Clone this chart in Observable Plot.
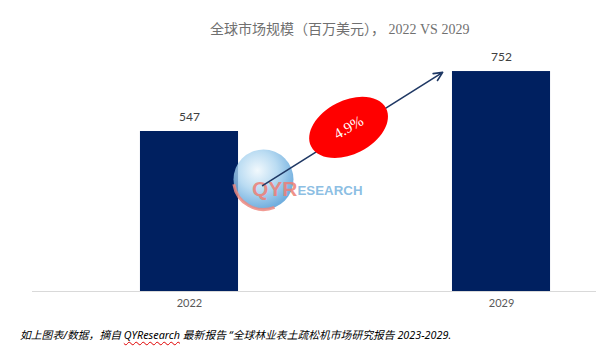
<!DOCTYPE html>
<html>
<head>
<meta charset="utf-8">
<script src="https://cdn.jsdelivr.net/npm/d3@7"></script>
<script src="https://cdn.jsdelivr.net/npm/@observablehq/plot@0.6"></script>
<style>
  html, body { margin: 0; padding: 0; background: #fff; }
  body { width: 596px; height: 359px; overflow: hidden; position: relative; }
  #title {
    box-sizing: border-box; height: 44px; padding-top: 20px; padding-left: 210px;
    font-family: "Liberation Serif", "Noto Sans CJK SC", serif; font-size: 14px; line-height: 20px;
    color: #707070; white-space: pre;
  }
  #chart svg { display: block; overflow: visible; }
  #caption {
    box-sizing: border-box; height: 39px; padding-top: 7px; padding-left: 20px;
    font-family: "Noto Sans", "Noto Sans CJK SC", sans-serif; font-style: italic;
    font-size: 10.8px; line-height: 16px; color: #000; white-space: nowrap;
  }
  .spell { text-decoration: underline wavy #e00000; text-decoration-thickness: 1px; text-underline-offset: 2px; }
</style>
</head>
<body>
<div id="title">全球市场规模（百万美元）， 2022 VS 2029</div>
<div id="chart"></div>
<div id="caption">如上图表/数据，摘自 <span class="spell">QYResearch</span> 最新报告 “全球林业表土疏松机市场研究报告 2023-2029.</div>
<script>
// ---- data ----
const years = [2022, 2029];
const values = [547, 752];
const cagrLabel = "4.9%";
// annotation anchors in data units (year, value)
const arrowFrom = [2023.64, 362];
const arrowTo = [2027.68, 749];
const cagrAt = [2025.57, 561];
const logoAt = [2023.66, 383];

const data = years.map((year, i) => ({year, value: values[i]}));

// custom ellipse symbol (r = semi-major axis)
const ellipseSymbol = {
  draw(ctx, size) {
    const a = Math.sqrt(size / Math.PI), b = a * 0.64, k = 0.5523;
    ctx.moveTo(a, 0);
    ctx.bezierCurveTo(a, k * b, k * a, b, 0, b);
    ctx.bezierCurveTo(-k * a, b, -a, k * b, -a, 0);
    ctx.bezierCurveTo(-a, -k * b, -k * a, -b, 0, -b);
    ctx.bezierCurveTo(k * a, -b, a, -k * b, a, 0);
    ctx.closePath();
  }
};
// swoosh arc symbol for the logo
const arcSymbol = {
  draw(ctx, size) {
    const r = Math.sqrt(size / Math.PI);
    ctx.moveTo(r * Math.cos(Math.PI * 0.95), r * Math.sin(Math.PI * 0.95));
    ctx.arc(0, 0, r, Math.PI * 0.95, Math.PI * 0.38, true);
  }
};

const plot = Plot.plot({
  width: 596,
  height: 276,
  marginLeft: 32,
  marginRight: 0,
  marginTop: 13,
  marginBottom: 29,
  x: {type: "linear", domain: [2018.478, 2031.131], label: null},
  y: {domain: [0, 800], axis: null},
  style: {background: "transparent"},
  marks: [
    Plot.rectY(data, {x1: d => d.year - 1.1, x2: d => d.year + 1.1, y: "value", fill: "#002060"}),
    Plot.ruleY([0], {stroke: "#d9d9d9", strokeWidth: 1}),
    Plot.axisX({ticks: years, tickFormat: d => `${d}`, tickSize: 0, tickPadding: 8, label: null,
      fontSize: 11, fill: "#595959", fontFamily: "Lato, 'Open Sans', sans-serif"}),
    Plot.text(data, {x: "year", y: "value", text: d => `${d.value}`, dy: -14,
      fontSize: 12, fill: "#404040", fontFamily: "Lato, 'Open Sans', sans-serif"}),
    // watermark logo
    Plot.dot([logoAt], {x: d => d[0], y: d => d[1], r: 30, fill: "url(#globeGrad)", fillOpacity: 0.8}),
    Plot.dot([logoAt], {x: d => d[0], y: d => d[1], r: 30, symbol: arcSymbol, fill: "none",
      stroke: "#ee8a80", strokeWidth: 3, strokeOpacity: 0.85}),
    Plot.text([logoAt], {x: d => d[0], y: d => d[1], text: () => "QYR", dx: 34, dy: 10, textAnchor: "end",
      fontSize: 21, fontWeight: "bold", fill: "#ee7e74", fillOpacity: 0.85,
      fontFamily: "'Liberation Sans', Arial, sans-serif"}),
    Plot.text([logoAt], {x: d => d[0], y: d => d[1], text: () => "ESEARCH", dx: 34, dy: 11, textAnchor: "start",
      fontSize: 13.3, fontWeight: "bold", fill: "#7db6e0", fillOpacity: 0.9,
      fontFamily: "'Liberation Sans', Arial, sans-serif"}),
    // CAGR arrow
    Plot.arrow([{from: arrowFrom, to: arrowTo}], {
      x1: d => d.from[0], y1: d => d.from[1], x2: d => d.to[0], y2: d => d.to[1],
      stroke: "#1f3864", strokeWidth: 1.6, headLength: 9, headAngle: 50
    }),
    Plot.dot([cagrAt], {x: d => d[0], y: d => d[1], r: 42, symbol: ellipseSymbol, rotate: -27,
      fill: "#ff0000", stroke: "none"}),
    Plot.text([cagrAt], {x: d => d[0], y: d => d[1], text: () => cagrLabel, rotate: -30,
      fontSize: 15, fill: "#ffffff", fontFamily: "'Liberation Serif', serif"})
  ]
});

const defs = d3.select(plot).insert("defs", ":first-child");
const g = defs.append("radialGradient").attr("id", "globeGrad")
  .attr("cx", "40%").attr("cy", "35%").attr("r", "65%");
g.append("stop").attr("offset", "0%").attr("stop-color", "#eef7fc");
g.append("stop").attr("offset", "50%").attr("stop-color", "#a9d3ef");
g.append("stop").attr("offset", "100%").attr("stop-color", "#4d9ad6");

document.getElementById("chart").append(plot);
</script>
</body>
</html>
